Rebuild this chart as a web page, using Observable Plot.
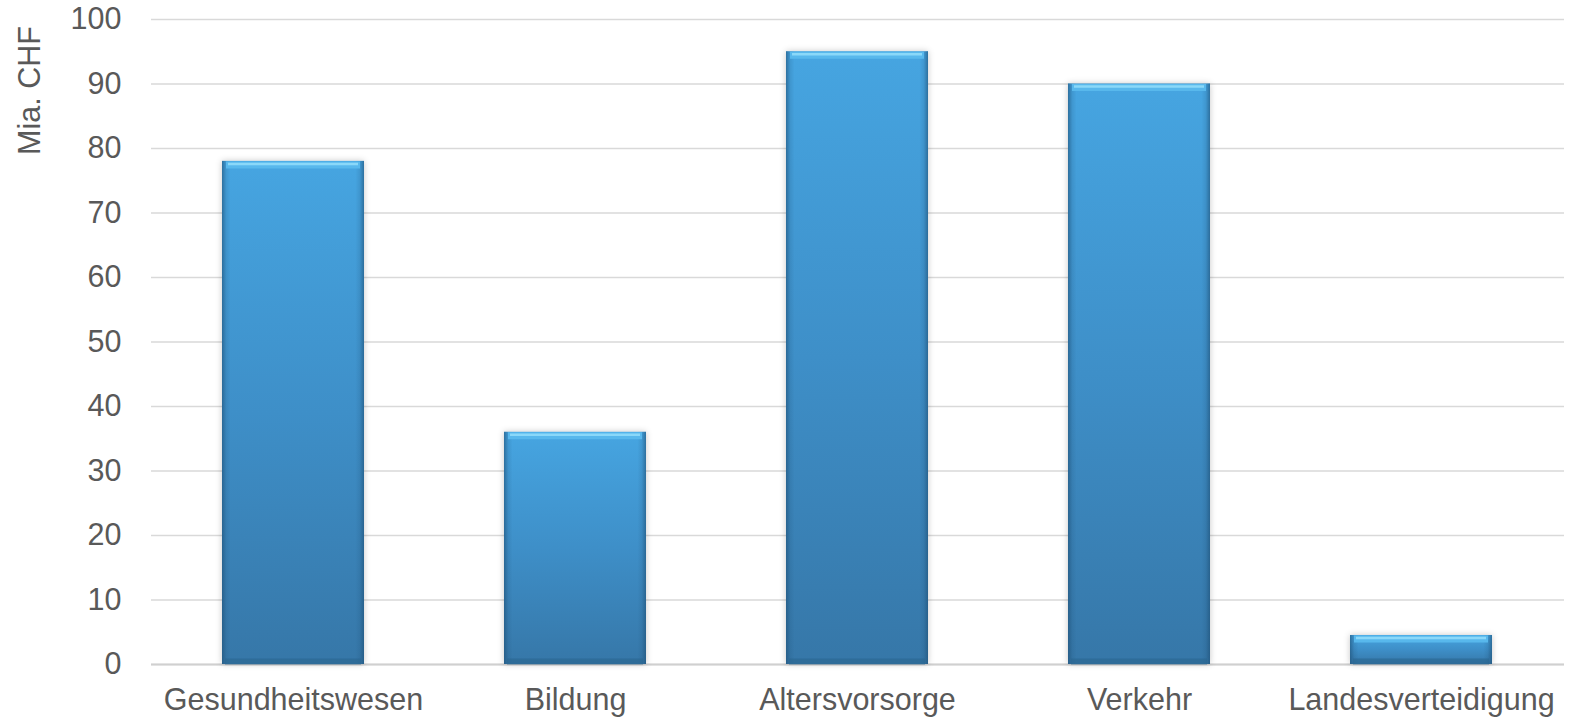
<!DOCTYPE html>
<html>
<head>
<meta charset="utf-8">
<script src="https://cdn.jsdelivr.net/npm/d3@7"></script>
<script src="https://cdn.jsdelivr.net/npm/@observablehq/plot@0.6"></script>
<style>
  html, body { margin: 0; padding: 0; background: #fff; }
  #chart { width: 1576px; height: 723px; }
</style>
</head>
<body>
<div id="chart"></div>
<script>
const categories = ["Gesundheitswesen", "Bildung", "Altersvorsorge", "Verkehr", "Landesverteidigung"];
const values = [78, 36, 95, 90, 4.5];
const yTicks = [0, 10, 20, 30, 40, 50, 60, 70, 80, 90, 100];
const yLabel = "Mia. CHF";

const data = categories.map((c, i) => ({cat: c, val: values[i]}));

const W = 1576, H = 723;
const FONT = "'Liberation Sans', Arial, sans-serif";
const TEXT = "#595959";
const FS = 30.5;

const plot = Plot.plot({
  width: W,
  height: H,
  marginLeft: 151,
  marginRight: 12,
  marginTop: 19,
  marginBottom: 59,
  style: {fontFamily: FONT, fontSize: FS + "px", color: TEXT, background: "#fff", overflow: "visible"},
  x: {domain: categories, paddingInner: 0.495, paddingOuter: 0.2475, label: null},
  y: {domain: [0, 100], label: null},
  marks: [
    Plot.gridY(yTicks, {stroke: "#d9d9d9", strokeOpacity: 1, strokeWidth: 1.5}),
    Plot.ruleY([0], {stroke: "#d0d0d0", strokeWidth: 2}),
    Plot.axisY(yTicks, {tickSize: 0, tickPadding: 30, label: null, fill: TEXT, fontSize: FS}),
    Plot.axisX({tickSize: 0, tickPadding: 24, label: null, fill: TEXT, fontSize: FS}),
    // main body with vertical gradient
    Plot.barY(data, {x: "cat", y: "val", fill: "url(#barFill)"}),
    // darker side edges
    Plot.barY(data, {x: "cat", y: "val", fill: "url(#barSides)"}),
    // darker bottom bevel
    Plot.tickY(data, {x: "cat", y: () => 0, stroke: "#2a6590", strokeOpacity: 0.6, strokeWidth: 6, dy: -3, insetLeft: 3, insetRight: 3}),
    // light top bevel
    Plot.tickY(data, {x: "cat", y: "val", stroke: "#58b8ec", strokeWidth: 7, dy: 3.5, insetLeft: 4, insetRight: 4}),
    Plot.tickY(data, {x: "cat", y: "val", stroke: "#8ad8f9", strokeWidth: 2.5, dy: 2.5, insetLeft: 6, insetRight: 6})
  ]
});

const svg = d3.select(plot);
const defs = svg.insert("defs", ":first-child");
const g1 = defs.append("linearGradient").attr("id", "barFill").attr("x1", 0).attr("y1", 0).attr("x2", 0).attr("y2", 1);
g1.append("stop").attr("offset", "0%").attr("stop-color", "#46a5e1");
g1.append("stop").attr("offset", "50%").attr("stop-color", "#3e8fc8");
g1.append("stop").attr("offset", "100%").attr("stop-color", "#3677a8");
const g2 = defs.append("linearGradient").attr("id", "barSides").attr("x1", 0).attr("y1", 0).attr("x2", 1).attr("y2", 0);
g2.append("stop").attr("offset", "0%").attr("stop-color", "#1d4e74").attr("stop-opacity", 0.6);
g2.append("stop").attr("offset", "3%").attr("stop-color", "#1d4e74").attr("stop-opacity", 0.15);
g2.append("stop").attr("offset", "6%").attr("stop-color", "#1d4e74").attr("stop-opacity", 0);
g2.append("stop").attr("offset", "94%").attr("stop-color", "#1d4e74").attr("stop-opacity", 0);
g2.append("stop").attr("offset", "97%").attr("stop-color", "#1d4e74").attr("stop-opacity", 0.15);
g2.append("stop").attr("offset", "100%").attr("stop-color", "#1d4e74").attr("stop-opacity", 0.6);

// soft shadow around the bars
svg.selectAll("g[aria-label=bar]").filter((d, i) => i === 0)
  .style("filter", "drop-shadow(0px 0px 3px rgba(0,0,0,0.22))");

// rotated y-axis title
svg.append("text")
  .attr("transform", "translate(39.5,90.5) rotate(-90)")
  .attr("text-anchor", "middle")
  .attr("fill", TEXT)
  .attr("font-family", FONT)
  .attr("font-size", FS)
  .text(yLabel);

document.getElementById("chart").appendChild(plot);
</script>
</body>
</html>
